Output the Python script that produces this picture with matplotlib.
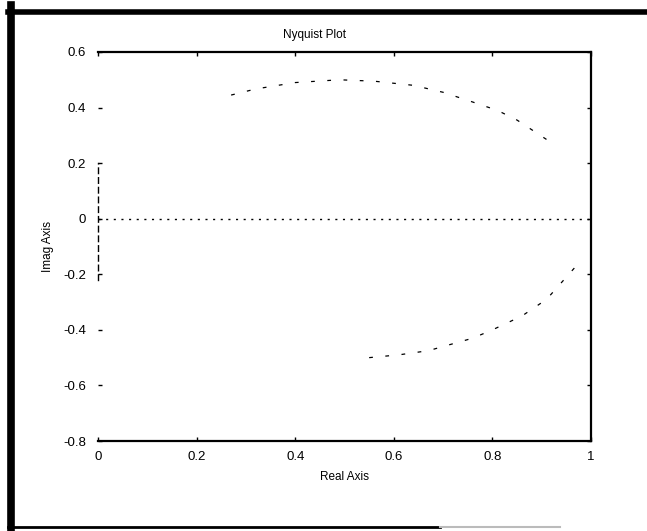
import matplotlib
matplotlib.use("Agg")
import matplotlib.pyplot as plt
from matplotlib.lines import Line2D

plt.rcParams["font.family"] = ["Liberation Sans", "DejaVu Sans"]
plt.rcParams["axes.unicode_minus"] = False

# Nyquist locus of G(s) = 1/(s+1): visible arc segments
re_upper = [0.27, 0.32, 0.40, 0.49, 0.56, 0.64, 0.70, 0.76, 0.81, 0.85, 0.91]
im_upper = [0.445, 0.467, 0.49, 0.50, 0.495, 0.48, 0.455, 0.42, 0.39, 0.355, 0.285]
re_lower = [0.55, 0.61, 0.67, 0.70, 0.76, 0.80, 0.86, 0.91, 0.97]
im_lower = [-0.50, -0.49, -0.475, -0.46, -0.43, -0.40, -0.35, -0.29, -0.17]

x_ticks = [0, 0.2, 0.4, 0.6, 0.8, 1]
x_tick_labels = ["0", "0.2", "0.4", "0.6", "0.8", "1"]
y_ticks = [-0.8, -0.6, -0.4, -0.2, 0, 0.2, 0.4, 0.6]
y_tick_labels = ["-0.8", "-0.6", "-0.4", "-0.2", "0", "0.2", "0.4", "0.6"]

W, H = 647, 531
fig = plt.figure(figsize=(W / 100, H / 100), dpi=100)
fig.patch.set_facecolor("white")

left, right, top, bottom = 98, 591, 52, 441
ax = fig.add_axes([left / W, 1 - bottom / H, (right - left) / W, (bottom - top) / H])

ax.plot(re_upper, im_upper, color="black", lw=0.9, linestyle=(0, (3, 10)))
ax.plot(re_lower, im_lower, color="black", lw=0.9, linestyle=(0, (3, 10)))
ax.axhline(0, color="black", lw=1.0, linestyle=(0, (1.5, 4)))

ax.set_xlim(0, 1)
ax.set_ylim(-0.8, 0.6)
ax.set_xticks(x_ticks)
ax.set_xticklabels(x_tick_labels)
ax.set_yticks(y_ticks)
ax.set_yticklabels(y_tick_labels)
ax.tick_params(direction="in", length=3, width=1, top=True, right=True,
               labelsize=9.5, colors="black")
ax.tick_params(axis="x", pad=7)
ax.tick_params(axis="y", pad=8.5)

for side in ("top", "bottom", "right"):
    ax.spines[side].set_linewidth(1.6)
ax.spines["left"].set_linewidth(1.0)
ax.spines["left"].set_linestyle((0, (4, 3)))
ax.spines["left"].set_bounds(-0.22, 0.2)

ax.set_title("Nyquist Plot", fontsize=8.5, x=0.44, pad=10)
ax.set_xlabel("Real Axis", fontsize=8.5, labelpad=6)
ax.set_ylabel("Imag Axis", fontsize=8.5, labelpad=7)

# page border around the figure
fig.add_artist(Line2D([11 / W, 11 / W], [1 - 5 / H, 1 - 528 / H], color="black", lw=5.5))
fig.add_artist(Line2D([8 / W, 1.0], [1 - 12 / H, 1 - 12 / H], color="black", lw=4))
fig.add_artist(Line2D([8 / W, 440 / W], [1 - 527 / H, 1 - 527 / H], color="black", lw=2))
fig.add_artist(Line2D([440 / W, 560 / W], [1 - 527 / H, 1 - 527 / H], color="#bbbbbb", lw=1.5))

fig.savefig("out.png", dpi=100)
